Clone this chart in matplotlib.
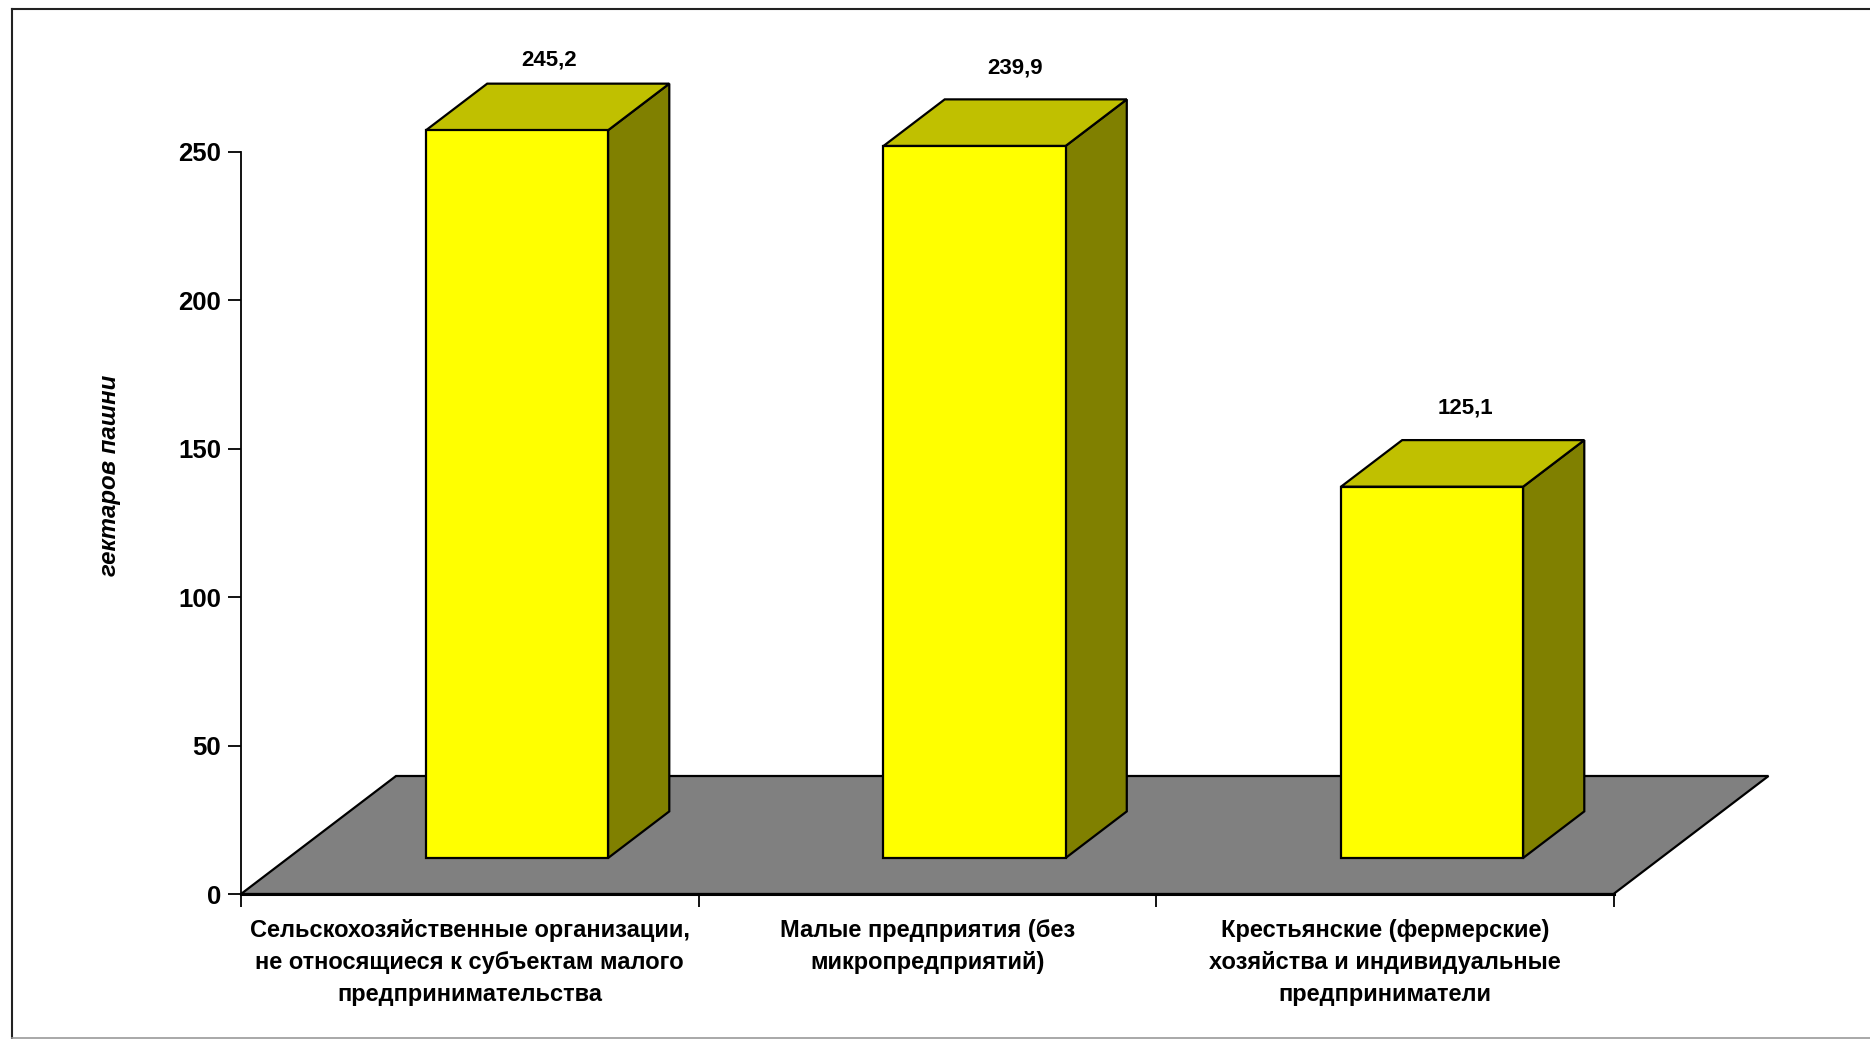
import matplotlib
matplotlib.use('Agg')
import matplotlib.pyplot as plt
from matplotlib.lines import Line2D
from matplotlib.patches import Polygon

# Data
categories = [
    'Сельскохозяйственные организации,\nне относящиеся к субъектам малого\nпредпринимательства',
    'Малые предприятия (без\nмикропредприятий)',
    'Крестьянские (фермерские)\nхозяйства и индивидуальные\nпредприниматели',
]
values = [245.2, 239.9, 125.1]
value_labels = ['245,2', '239,9', '125,1']
y_ticks = [0, 50, 100, 150, 200, 250]
y_label = 'гектаров пашни'

plt.rcParams['font.family'] = ['Liberation Sans', 'DejaVu Sans']

W, H = 1870, 1039
# axes box in pixels
left, right, bottom, top = 241, 1613.5, 894, 152

fig = plt.figure(figsize=(W / 100, H / 100), dpi=100, facecolor='white')
ax = fig.add_axes([left / W, (H - bottom) / H, (right - left) / W, (bottom - top) / H])
ax.set_xlim(0, 3)
ax.set_ylim(0, 250)
ax.patch.set_visible(False)

# depth of the fake 3d floor, in data units
DX = 155 / ((right - left) / 3)
DY = 118 / ((bottom - top) / 250)
BAR_WIDTH = 0.398
D_FRONT = 0.305
D_BACK = 0.70


def pt(x, y, d):
    return (x + d * DX, y + d * DY)


def face(points, color, lw=1.6, z=3):
    ax.add_patch(Polygon(points, closed=True, facecolor=color, edgecolor='black',
                         linewidth=lw, joinstyle='miter', clip_on=False, zorder=z))


# floor
face([pt(0, 0, 0), pt(3, 0, 0), pt(3, 0, 1), pt(0, 0, 1)], '#808080', z=1)

# bars, label offsets are in pixels from the middle of the top face
label_dx = [-29, -21, -28]
label_dy = [24, 31, 32]
for i, v in enumerate(values):
    x0 = i + 0.5 - BAR_WIDTH / 2
    x1 = i + 0.5 + BAR_WIDTH / 2
    face([pt(x1, 0, D_FRONT), pt(x1, 0, D_BACK), pt(x1, v, D_BACK), pt(x1, v, D_FRONT)], '#808000')
    face([pt(x0, v, D_FRONT), pt(x1, v, D_FRONT), pt(x1, v, D_BACK), pt(x0, v, D_BACK)], '#C0C000')
    face([pt(x0, 0, D_FRONT), pt(x1, 0, D_FRONT), pt(x1, v, D_FRONT), pt(x0, v, D_FRONT)], '#FFFF00')
    ax.annotate(value_labels[i], xy=pt(i + 0.5, v, D_BACK), xytext=(label_dx[i] * 0.72, label_dy[i] * 0.72),
                textcoords='offset points', ha='center', va='center',
                fontsize=16, fontweight='bold', annotation_clip=False, zorder=5)

# axes
for side in ['top', 'right']:
    ax.spines[side].set_visible(False)
ax.spines['left'].set_linewidth(1.3)
ax.spines['bottom'].set_linewidth(2.2)
ax.spines['left'].set_zorder(4)
ax.spines['bottom'].set_zorder(4)

ax.set_yticks(y_ticks)
ax.set_xticks([0, 1, 2, 3])
ax.set_xticklabels([])
ax.set_xticks([0.5, 1.5, 2.5], minor=True)
ax.set_xticklabels(categories, minor=True, fontsize=17, fontweight='bold', linespacing=1.5)
ax.tick_params(axis='x', which='minor', length=0, pad=18)
ax.tick_params(axis='x', which='major', length=9.4, width=1.3, direction='out')
ax.tick_params(axis='y', length=9.4, width=1.3, direction='out', pad=5)
for lab in ax.get_yticklabels():
    lab.set_fontsize(18.5)
    lab.set_fontweight('bold')

ax.set_ylabel(y_label, fontsize=17.3, fontweight='bold', fontstyle='italic')
ax.yaxis.set_label_coords((121 - left) / (right - left), (bottom - 475) / (bottom - top))

# outer frame
fig.add_artist(Line2D([12 / W, 12 / W], [1 - 1038 / H, 1 - 9 / H], color='#222222', lw=1.5))
fig.add_artist(Line2D([12 / W, 1], [1 - 9 / H, 1 - 9 / H], color='#222222', lw=1.5))
fig.add_artist(Line2D([12 / W, 1], [1 - 1037.5 / H, 1 - 1037.5 / H], color='#999999', lw=1.2))

fig.savefig('out.png', dpi=100)
